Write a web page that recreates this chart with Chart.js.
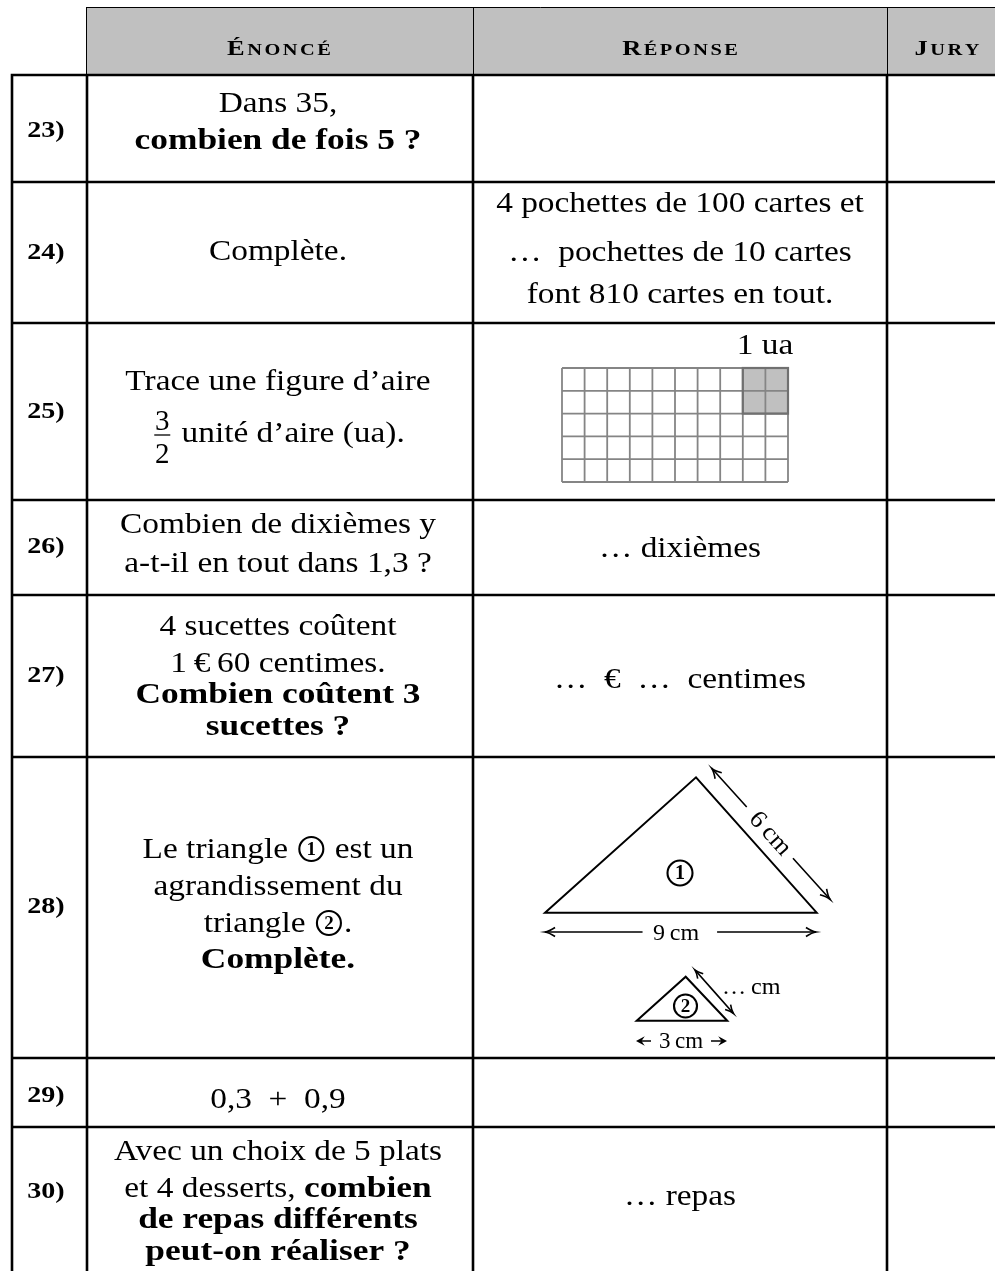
<!DOCTYPE html>
<html lang="fr">
<head>
<meta charset="utf-8">
<title>Questions 23 à 30</title>
<script src="https://cdn.jsdelivr.net/npm/chart.js@4.4.1/dist/chart.umd.min.js"></script>
<style>
  html, body { margin: 0; padding: 0; background: #fff; }
  #wrap { width: 995px; height: 1271px; }
</style>
</head>
<body>
<div id="wrap"><canvas id="sheet" width="995" height="1271"></canvas></div>
<script>
// contenu du tableau
const headers = ['Énoncé', 'Réponse', 'Jury'];
const questionNumbers = ['23)', '24)', '25)', '26)', '27)', '28)', '29)', '30)'];
const enonce = [
    ['Dans 35,', '**combien de fois 5 ?**'],
    ['Complète.'],
    ['Trace une figure d’aire', '{3/2} unité d’aire (ua).'],
    ['Combien de dixièmes y', 'a-t-il en tout dans 1,3 ?'],
    ['4 sucettes coûtent', '1\u2009€\u200960 centimes.', '**Combien coûtent 3**', '**sucettes ?**'],
    ['Le triangle ① est un', 'agrandissement du', 'triangle ②.', '**Complète.**'],
    ['0,3  +  0,9'],
    ['Avec un choix de 5 plats', 'et 4 desserts, **combien**', '**de repas différents**', '**peut-on réaliser ?**'],
];
const reponse = [
    [],
    ['4 pochettes de 100 cartes et', '…  pochettes de 10 cartes', 'font 810 cartes en tout.'],
    [],
    ['… dixièmes'],
    ['…  €  …  centimes'],
    [],
    [],
    ['… repas'],
];

// quadrillage de la question 25
const gridColumns = 10;
const gridRows = 5;
const unitCells = [[8, 0], [9, 0], [8, 1], [9, 1]];
const unitLabel = '1 ua';

// triangles de la question 28
const bigTriangleLabels = ['9\u2009cm', '6\u2009cm'];
const smallTriangleLabels = ['3\u2009cm', '…\u2009cm'];

// mise en page (pixels de la feuille)
const layout = {
    rowEdges: [75, 182, 323, 500, 595, 757, 1058, 1127],
    columnEdges: [12, 87, 473, 887],
    headerTop: 7,
    headerLeft: 86,
    labelX: 46,
    enonceX: 278,
    reponseX: 680,
    labelBaselines: [137, 259, 418, 553, 682, 913, 1102, 1198],
    enonceBaselines: [[112, 149], [260], [390, 442], [533, 572], [635, 672, 703, 735], [858, 895, 932, 968], [1108], [1160, 1197, 1228, 1260]],
    reponseBaselines: [[], [212, 261, 303], [], [557], [688], [], [], [1205]],
};

const SERIF = '"Liberation Serif", "Times New Roman", serif';
const ROMAN_SX = 1.15;
const BOLD_SX = 1.22;

function font(bold, size) {
    return (bold ? 'bold ' : '') + size + 'px ' + SERIF;
}

function tokens(str) {
    const out = [];
    let bold = false;
    let buf = '';
    const flush = () => {
        if (buf) {
            out.push({ kind: 'text', text: buf, bold });
            buf = '';
        }
    };
    for (let i = 0; i < str.length; i++) {
        const c = str[i];
        if (c === '*' && str[i + 1] === '*') {
            flush();
            bold = !bold;
            i++;
            continue;
        }
        if (c === '①' || c === '②') {
            flush();
            out.push({ kind: 'circ', digit: c === '①' ? '1' : '2' });
            continue;
        }
        if (c === '{') {
            flush();
            const j = str.indexOf('}', i);
            const [num, den] = str.slice(i + 1, j).split('/');
            out.push({ kind: 'frac', num, den });
            i = j;
            continue;
        }
        buf += c;
    }
    flush();
    return out;
}

function tokenWidth(ctx, t, size) {
    if (t.kind === 'text') {
        ctx.font = font(t.bold, size);
        return ctx.measureText(t.text).width * (t.bold ? BOLD_SX : ROMAN_SX);
    }
    return t.kind === 'circ' ? 30 : 22;
}

function drawCircled(ctx, cx, cy, r, digit, size) {
    ctx.save();
    ctx.lineWidth = 2.1;
    ctx.beginPath();
    ctx.arc(cx, cy, r, 0, Math.PI * 2);
    ctx.stroke();
    ctx.font = font(true, size);
    ctx.textAlign = 'center';
    ctx.textBaseline = 'middle';
    ctx.fillText(digit, cx, cy + 1);
    ctx.restore();
}

function drawRich(ctx, str, cx, base, size) {
    const toks = tokens(str);
    const widths = toks.map((t) => tokenWidth(ctx, t, size));
    let x = cx - widths.reduce((a, b) => a + b, 0) / 2;
    toks.forEach((t, i) => {
        const w = widths[i];
        if (t.kind === 'text') {
            ctx.save();
            ctx.font = font(t.bold, size);
            ctx.textAlign = 'left';
            ctx.translate(x, base);
            ctx.scale(t.bold ? BOLD_SX : ROMAN_SX, 1);
            ctx.fillText(t.text, 0, 0);
            ctx.restore();
        } else if (t.kind === 'circ') {
            drawCircled(ctx, x + w / 2, base - 9, 12, t.digit, 19);
        } else {
            ctx.save();
            ctx.lineWidth = 1.3;
            ctx.beginPath();
            ctx.moveTo(x + 3, base - 7);
            ctx.lineTo(x + 19, base - 7);
            ctx.stroke();
            ctx.font = font(false, size);
            ctx.textAlign = 'center';
            ctx.fillText(t.num, x + 11, base - 12);
            ctx.fillText(t.den, x + 11, base + 21);
            ctx.restore();
        }
        x += w;
    });
}

function drawSmallCaps(ctx, word, cx, base) {
    const sx = 1.2;
    const gap = 2.5;
    const chars = word.split('').map((c, i) => ({
        c: c.toUpperCase(),
        size: i === 0 ? 22 : 17,
    }));
    chars.forEach((ch) => {
        ctx.font = font(true, ch.size);
        ch.w = ctx.measureText(ch.c).width * sx;
    });
    const total = chars.reduce((a, ch) => a + ch.w, 0) + gap * (chars.length - 1);
    let x = cx - total / 2;
    chars.forEach((ch) => {
        ctx.save();
        ctx.font = font(true, ch.size);
        ctx.translate(x, base);
        ctx.scale(sx, 1);
        ctx.fillText(ch.c, 0, 0);
        ctx.restore();
        x += ch.w + gap;
    });
}

function openHead(ctx, tipX, tipY, angle, len) {
    const spread = 0.42;
    ctx.beginPath();
    ctx.moveTo(tipX - len * Math.cos(angle - spread), tipY - len * Math.sin(angle - spread));
    ctx.quadraticCurveTo(tipX - len * 0.35 * Math.cos(angle - 0.15), tipY - len * 0.35 * Math.sin(angle - 0.15), tipX, tipY);
    ctx.quadraticCurveTo(tipX - len * 0.35 * Math.cos(angle + 0.15), tipY - len * 0.35 * Math.sin(angle + 0.15),
        tipX - len * Math.cos(angle + spread), tipY - len * Math.sin(angle + spread));
    ctx.stroke();
}

function filledHead(ctx, tipX, tipY, angle, len) {
    const spread = 0.5;
    ctx.beginPath();
    ctx.moveTo(tipX, tipY);
    ctx.lineTo(tipX - len * Math.cos(angle - spread), tipY - len * Math.sin(angle - spread));
    ctx.lineTo(tipX - len * 0.55 * Math.cos(angle), tipY - len * 0.55 * Math.sin(angle));
    ctx.lineTo(tipX - len * Math.cos(angle + spread), tipY - len * Math.sin(angle + spread));
    ctx.closePath();
    ctx.fill();
}

// double flèche avec un trou pour l'étiquette (t0..t1 sur le segment)
function gapArrow(ctx, p1, p2, t0, t1, head) {
    const ang = Math.atan2(p2[1] - p1[1], p2[0] - p1[0]);
    const at = (t) => [p1[0] + (p2[0] - p1[0]) * t, p1[1] + (p2[1] - p1[1]) * t];
    const a = at(t0);
    const b = at(t1);
    ctx.beginPath();
    ctx.moveTo(p1[0], p1[1]);
    ctx.lineTo(a[0], a[1]);
    ctx.moveTo(b[0], b[1]);
    ctx.lineTo(p2[0], p2[1]);
    ctx.stroke();
    openHead(ctx, p2[0], p2[1], ang, head);
    openHead(ctx, p1[0], p1[1], ang + Math.PI, head);
}

function scaledText(ctx, text, x, y, size, sx, align) {
    ctx.save();
    ctx.font = font(false, size);
    ctx.textAlign = align;
    ctx.translate(x, y);
    ctx.scale(sx, 1);
    ctx.fillText(text, 0, 0);
    ctx.restore();
}

const tablePlugin = {
    id: 'tablePlugin',
    afterDraw(chart) {
        const ctx = chart.ctx;
        const xs = chart.scales.x;
        const ys = chart.scales.y;
        const X = (v) => xs.getPixelForValue(v);
        const Y = (v) => ys.getPixelForValue(v);
        const right = X(995);
        const bottom = Y(1271);
        const L = layout;

        ctx.save();
        ctx.fillStyle = '#000';
        ctx.strokeStyle = '#000';
        ctx.textBaseline = 'alphabetic';

        // en-tête gris
        ctx.fillStyle = '#c0c0c0';
        ctx.fillRect(X(L.headerLeft), Y(L.headerTop), right - X(L.headerLeft), Y(L.rowEdges[0]) - Y(L.headerTop));
        ctx.fillStyle = '#000';
        ctx.lineWidth = 1;
        ctx.beginPath();
        ctx.moveTo(X(L.headerLeft), Y(L.headerTop) + 0.5);
        ctx.lineTo(right, Y(L.headerTop) + 0.5);
        [L.headerLeft, L.columnEdges[2], L.columnEdges[3]].forEach((cx) => {
            ctx.moveTo(X(cx) + 0.5, Y(L.headerTop));
            ctx.lineTo(X(cx) + 0.5, Y(L.rowEdges[0]));
        });
        ctx.stroke();

        const headerCenters = [
            (L.columnEdges[1] + L.columnEdges[2]) / 2 - 1,
            (L.columnEdges[2] + L.columnEdges[3]) / 2,
            L.columnEdges[3] + 60,
        ];
        headers.forEach((h, i) => drawSmallCaps(ctx, h, X(headerCenters[i]), Y(55)));

        // traits épais du corps
        ctx.lineWidth = 2.6;
        ctx.beginPath();
        L.rowEdges.forEach((ry) => {
            ctx.moveTo(X(L.columnEdges[0]) - 1.3, Y(ry));
            ctx.lineTo(right, Y(ry));
        });
        L.columnEdges.forEach((cx) => {
            ctx.moveTo(X(cx), Y(L.rowEdges[0]));
            ctx.lineTo(X(cx), bottom);
        });
        ctx.stroke();

        // numéros
        questionNumbers.forEach((q, i) => {
            ctx.save();
            ctx.font = font(true, 23);
            const w = ctx.measureText(q).width * 1.22;
            ctx.translate(X(L.labelX) - w / 2, Y(L.labelBaselines[i]));
            ctx.scale(1.22, 1);
            ctx.fillText(q, 0, 0);
            ctx.restore();
        });

        // énoncés et réponses
        enonce.forEach((lines, i) => {
            lines.forEach((line, j) => drawRich(ctx, line, X(L.enonceX), Y(L.enonceBaselines[i][j]), 29));
        });
        reponse.forEach((lines, i) => {
            lines.forEach((line, j) => drawRich(ctx, line, X(L.reponseX), Y(L.reponseBaselines[i][j]), 29));
        });

        // quadrillage (question 25)
        const gx = X(562);
        const gy = Y(368);
        const cw = (X(788) - X(562)) / gridColumns;
        const ch = (Y(482) - Y(368)) / gridRows;
        ctx.fillStyle = '#c0c0c0';
        unitCells.forEach(([c, r]) => ctx.fillRect(gx + c * cw, gy + r * ch, cw, ch));
        ctx.fillStyle = '#000';
        ctx.strokeStyle = '#858585';
        ctx.lineWidth = 1.8;
        ctx.beginPath();
        for (let c = 0; c <= gridColumns; c++) {
            ctx.moveTo(gx + c * cw, gy);
            ctx.lineTo(gx + c * cw, gy + gridRows * ch);
        }
        for (let r = 0; r <= gridRows; r++) {
            ctx.moveTo(gx, gy + r * ch);
            ctx.lineTo(gx + gridColumns * cw, gy + r * ch);
        }
        ctx.stroke();
        const uc = Math.min(...unitCells.map((u) => u[0]));
        const ur = Math.min(...unitCells.map((u) => u[1]));
        ctx.strokeStyle = '#707070';
        ctx.lineWidth = 2.2;
        ctx.strokeRect(gx + uc * cw, gy + ur * ch, cw * 2, ch * 2);
        ctx.strokeStyle = '#000';
        drawRich(ctx, unitLabel, X(765), Y(354), 29);

        // triangles (question 28)
        ctx.lineWidth = 2;
        ctx.lineJoin = 'miter';
        const big = [[X(545), Y(912.7)], [X(696), Y(777.3)], [X(816.7), Y(912.7)]];
        const small = [[X(636.7), Y(1020.7)], [X(685.7), Y(976.7)], [X(727.3), Y(1020.7)]];
        [big, small].forEach((tri) => {
            ctx.beginPath();
            ctx.moveTo(tri[0][0], tri[0][1]);
            ctx.lineTo(tri[1][0], tri[1][1]);
            ctx.lineTo(tri[2][0], tri[2][1]);
            ctx.closePath();
            ctx.stroke();
        });
        drawCircled(ctx, X(680), Y(873), 12.5, '1', 20);
        drawCircled(ctx, X(685.5), Y(1006), 11.5, '2', 19);

        ctx.lineWidth = 1.6;
        // 9 cm
        gapArrow(ctx, [X(545), Y(932)], [X(816), Y(932)], 0.36, 0.635, 11);
        scaledText(ctx, bigTriangleLabels[0], X(676), Y(940), 24, 1.0, 'center');

        // 6 cm
        const s1 = [X(711.7), Y(768.3)];
        const s2 = [X(830), Y(899.3)];
        gapArrow(ctx, s1, s2, 0.296, 0.687, 11);
        ctx.save();
        ctx.font = font(false, 25);
        ctx.textAlign = 'center';
        ctx.textBaseline = 'middle';
        const mid = [(s1[0] + s2[0]) / 2 - 1, (s1[1] + s2[1]) / 2];
        ctx.translate(mid[0], mid[1]);
        ctx.rotate(Math.atan2(s2[1] - s1[1], s2[0] - s1[0]));
        ctx.scale(1.05, 1);
        ctx.fillText(bigTriangleLabels[1], 0, 0);
        ctx.restore();

        // ... cm
        gapArrow(ctx, [X(695), Y(970)], [X(733.3), Y(1013.3)], 0.5, 0.5, 9);
        scaledText(ctx, smallTriangleLabels[1], X(722), Y(994), 23, 1.05, 'left');

        // 3 cm
        scaledText(ctx, smallTriangleLabels[0], X(681), Y(1048), 23, 1.0, 'center');
        ctx.lineWidth = 1.4;
        ctx.beginPath();
        ctx.moveTo(X(651), Y(1041));
        ctx.lineTo(X(640), Y(1041));
        ctx.moveTo(X(711), Y(1041));
        ctx.lineTo(X(723), Y(1041));
        ctx.stroke();
        filledHead(ctx, X(636), Y(1041), Math.PI, 10);
        filledHead(ctx, X(727), Y(1041), 0, 10);

        ctx.restore();
    },
};

new Chart(document.getElementById('sheet'), {
    type: 'scatter',
    data: {
        datasets: [{ data: [] }],
    },
    options: {
        responsive: false,
        animation: false,
        devicePixelRatio: 1,
        layout: { padding: 0 },
        plugins: {
            legend: { display: false },
            tooltip: { enabled: false },
        },
        scales: {
            x: { type: 'linear', min: 0, max: 995, display: false },
            y: { type: 'linear', min: 0, max: 1271, reverse: true, display: false },
        },
    },
    plugins: [tablePlugin],
});
</script>
</body>
</html>
